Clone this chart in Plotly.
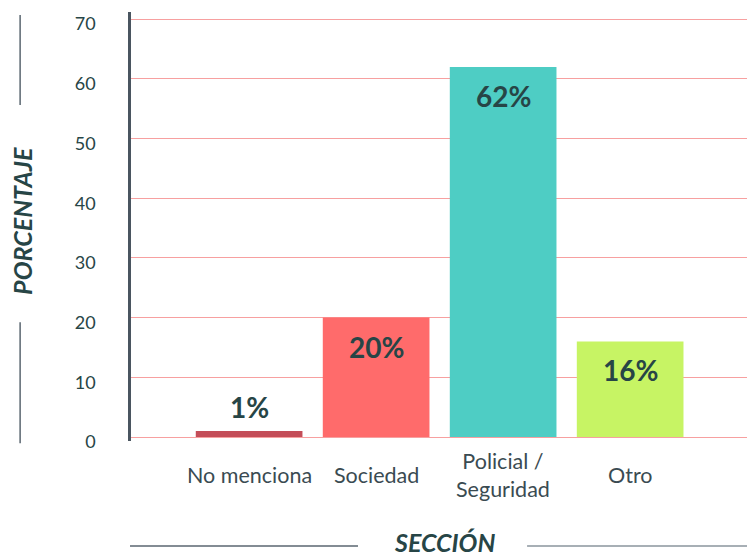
import plotly.graph_objects as go

categories = ["No menciona", "Sociedad", "Policial / Seguridad", "Otro"]
tick_labels = ["No menciona", "Sociedad", "Policial /<br>Seguridad", "Otro"]
values = [1, 20, 62, 16]
bar_colors = ["#c44d58", "#ff6b6b", "#4ecdc4", "#c7f464"]
y_ticks = [0, 10, 20, 30, 40, 50, 60, 70]

TXT = "#274546"
FONT = "Lato, 'Open Sans', sans-serif"

fig = go.Figure()
fig.add_trace(go.Bar(
    x=categories, y=values, marker=dict(color=bar_colors, line=dict(width=0)),
    width=0.84, hoverinfo="skip", showlegend=False,
))

annotations = []
for c, v in zip(categories, values):
    inside = v >= 5
    annotations.append(dict(
        x=c, y=v, xref="x", yref="y", text=f"<b>{v}%</b>", showarrow=False,
        yanchor="middle", yshift=-29 if inside else 24,
        font=dict(family=FONT, size=28, color=TXT),
    ))
for c, t in zip(categories, tick_labels):
    annotations.append(dict(
        x=c, y=-0.08, xref="x", yref="paper", text=t, showarrow=False,
        yanchor="middle", xanchor="center",
        font=dict(family=FONT, size=21.5, color="#3a4b52"),
    ))
annotations.append(dict(
    x=0.5097, y=-0.236, xref="paper", yref="paper", text="<b><i>SECCIÓN</i></b>",
    showarrow=False, xanchor="center", yanchor="middle",
    font=dict(family=FONT, size=25, color=TXT),
))
annotations.append(dict(
    x=-0.177, y=0.513, xref="paper", yref="paper", text="<b><i>PORCENTAJE</i></b>",
    showarrow=False, xanchor="center", yanchor="middle", textangle=-90,
    font=dict(family=FONT, size=25, color=TXT),
))

line_style = dict(color="#5a6670", width=1.5)
shapes = [
    dict(type="line", xref="paper", yref="paper", x0=-0.180, x1=-0.180, y0=0.993, y1=0.783, line=line_style),
    dict(type="line", xref="paper", yref="paper", x0=-0.180, x1=-0.180, y0=0.277, y1=-0.005, line=line_style),
    dict(type="line", xref="paper", yref="paper", x0=-0.0016, x1=0.3685, y0=-0.245, y1=-0.245, line=line_style),
    dict(type="line", xref="paper", yref="paper", x0=0.643, x1=1.0, y0=-0.245, y1=-0.245, line=dict(color="#8a949c", width=1.5)),
]

fig.update_layout(
    width=747, height=556,
    margin=dict(l=131, r=0, t=12, b=115),
    paper_bgcolor="white", plot_bgcolor="white",
    font=dict(family=FONT, color=TXT),
    annotations=annotations, shapes=shapes,
    bargap=0.16,
    xaxis=dict(
        range=[-0.93, 3.92], showticklabels=False, showgrid=False,
        showline=False, zeroline=False, fixedrange=True,
    ),
    yaxis=dict(
        range=[-0.67, 71.2], tickvals=y_ticks, ticktext=[str(t) for t in y_ticks],
        showgrid=True, gridcolor="#f7a0a0", gridwidth=1.3,
        zeroline=True, zerolinecolor="#f7a0a0", zerolinewidth=1.3,
        showline=True, linecolor="#4a5560", linewidth=2.5,
        ticks="", ticklabelstandoff=29, ticklabelshift=5,
        tickfont=dict(family=FONT, size=18, color=TXT),
        fixedrange=True,
    ),
)

fig.write_html("out.html", config={"displayModeBar": False},
               post_script="document.body.style.margin='0';document.body.style.overflow='hidden';")
